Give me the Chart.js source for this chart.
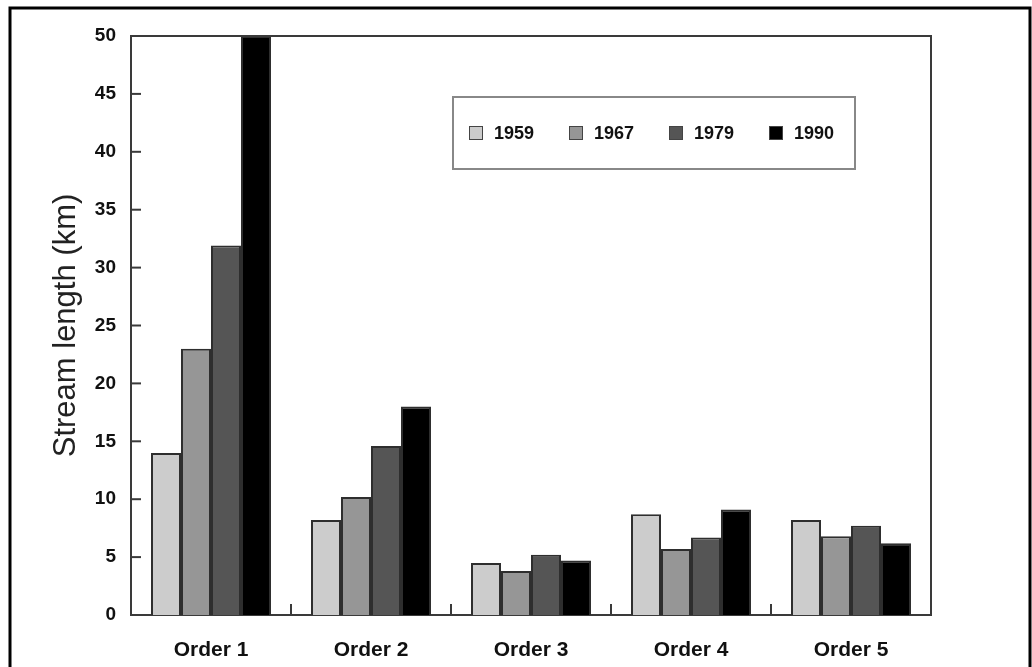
<!DOCTYPE html>
<html>
<head>
<meta charset="utf-8">
<script src="https://cdn.jsdelivr.net/npm/chart.js@4/dist/chart.umd.min.js"></script>
<style>
  html, body { margin: 0; padding: 0; background: #fff; }
  #wrap { width: 1032px; height: 667px; }
</style>
</head>
<body>
<div id="wrap"><canvas id="streamChart" width="1032" height="667"></canvas></div>
<script>
// categories and series
const orders = ['Order 1', 'Order 2', 'Order 3', 'Order 4', 'Order 5'];
const years = ['1959', '1967', '1979', '1990'];
const len1959 = [14.0, 8.2, 4.5, 8.7, 8.2];
const len1967 = [23.0, 10.2, 3.8, 5.7, 6.8];
const len1979 = [31.9, 14.6, 5.2, 6.7, 7.7];
const len1990 = [50.0, 18.0, 4.7, 9.1, 6.2];
const yTicks = [0, 5, 10, 15, 20, 25, 30, 35, 40, 45, 50];

const fills = ['#cccccc', '#969696', '#555555', '#000000'];
const axisColor = '#3a3a3a';
const fontFam = '"Liberation Sans", Arial, Helvetica, sans-serif';

// frame, plot box, inward ticks, dividers and the legend box
const decor = {
    id: 'decor',
    afterDraw(chart) {
        const ctx = chart.ctx;
        const a = chart.chartArea;
        const y = chart.scales.y;
        const x = chart.scales.x;
        ctx.save();

        // outer frame
        ctx.strokeStyle = '#000';
        ctx.lineWidth = 3;
        ctx.strokeRect(10, 8, 1020, 700);

        // top + right of the plot box
        ctx.strokeStyle = axisColor;
        ctx.lineWidth = 2;
        ctx.beginPath();
        ctx.moveTo(a.left, a.top);
        ctx.lineTo(a.right, a.top);
        ctx.lineTo(a.right, a.bottom);
        ctx.stroke();

        // y ticks pointing inward
        yTicks.forEach(v => {
            if (v === 0 || v === 50) return;
            const py = y.getPixelForValue(v);
            ctx.beginPath();
            ctx.moveTo(a.left, py);
            ctx.lineTo(a.left + 10, py);
            ctx.stroke();
        });

        // short dividers between the groups
        for (let i = 1; i < orders.length; i++) {
            const px = (x.getPixelForValue(i - 1) + x.getPixelForValue(i)) / 2;
            ctx.beginPath();
            ctx.moveTo(px, a.bottom);
            ctx.lineTo(px, a.bottom - 11);
            ctx.stroke();
        }

        // legend
        ctx.fillStyle = '#fff';
        ctx.fillRect(453, 97, 402, 72);
        ctx.strokeStyle = '#888';
        ctx.lineWidth = 2;
        ctx.strokeRect(453, 97, 402, 72);
        ctx.font = 'bold 18px ' + fontFam;
        ctx.textBaseline = 'middle';
        years.forEach((yr, i) => {
            const lx = 469 + i * 100;
            ctx.fillStyle = fills[i];
            ctx.fillRect(lx, 126, 14, 14);
            ctx.strokeStyle = '#444';
            ctx.lineWidth = 1;
            ctx.strokeRect(lx + 0.5, 126.5, 13, 13);
            ctx.fillStyle = '#111';
            ctx.fillText(yr, lx + 25, 134);
        });
        ctx.restore();
    }
};

const datasets = [len1959, len1967, len1979, len1990].map((vals, i) => ({
    label: years[i],
    data: vals,
    backgroundColor: fills[i],
    borderColor: '#2e2e2e',
    borderWidth: 2,
    barPercentage: 1.0,
    categoryPercentage: 0.75
}));

new Chart(document.getElementById('streamChart').getContext('2d'), {
    type: 'bar',
    data: { labels: orders, datasets: datasets },
    options: {
        responsive: false,
        animation: false,
        layout: { padding: { left: 0, top: 36, right: 101, bottom: 0 } },
        plugins: {
            legend: { display: false },
            tooltip: { enabled: false }
        },
        scales: {
            x: {
                grid: { display: false, drawTicks: false },
                border: { display: true, color: axisColor, width: 2 },
                ticks: {
                    padding: 23,
                    color: '#111',
                    font: { family: fontFam, size: 21, weight: 'bold' }
                },
                afterFit(s) { s.height = 52; }
            },
            y: {
                min: 0,
                max: 50,
                grid: { display: false, drawTicks: false },
                border: { display: true, color: axisColor, width: 2 },
                afterBuildTicks(s) { s.ticks = yTicks.map(v => ({ value: v })); },
                ticks: {
                    padding: 15,
                    color: '#111',
                    font: { family: fontFam, size: 19, weight: 'bold' }
                },
                title: {
                    display: true,
                    text: 'Stream length (km)',
                    color: '#222',
                    padding: { top: 48, bottom: 0 },
                    font: { family: fontFam, size: 31 }
                },
                afterFit(s) { s.width = 131; }
            }
        }
    },
    plugins: [decor]
});
</script>
</body>
</html>
